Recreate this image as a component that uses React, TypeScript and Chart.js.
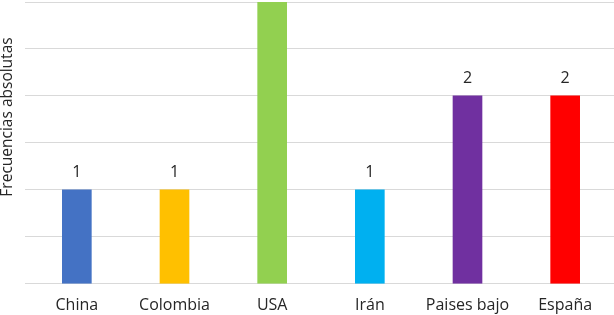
import React, { useEffect, useRef } from "react";
import { Chart, registerables } from "chart.js";

Chart.register(...registerables);

const categories = ["China", "Colombia", "USA", "Irán", "Paises bajo", "España"];
const values = [1, 1, 3, 1, 2, 2];
const barColors = ["#4472C4", "#FFC000", "#92D050", "#00B0F0", "#7030A0", "#FF0000"];
const yTitle = "Frecuencias absolutas";
const yMin = 0;
const yMax = 3;
const yStep = 0.5;

const FONT = "'Open Sans', 'Noto Sans', sans-serif";

const dataLabelPlugin = {
  id: "dataLabels",
  afterDatasetsDraw(chart: any) {
    const ctx = chart.ctx;
    const meta = chart.getDatasetMeta(0);
    ctx.save();
    ctx.font = `16px ${FONT}`;
    ctx.fillStyle = "#262626";
    ctx.textAlign = "center";
    ctx.textBaseline = "middle";
    meta.data.forEach((bar: any, i: number) => {
      const v = chart.data.datasets[0].data[i];
      ctx.fillText(String(v), bar.x, bar.y - 17);
    });
    ctx.restore();
  },
};

const yTitlePlugin = {
  id: "yTitleCustom",
  afterDraw(chart: any) {
    const ctx = chart.ctx;
    ctx.save();
    ctx.translate(8, 117);
    ctx.rotate(-Math.PI / 2);
    ctx.font = `15.5px ${FONT}`;
    ctx.fillStyle = "#262626";
    ctx.textAlign = "center";
    ctx.textBaseline = "middle";
    ctx.fillText(yTitle, 0, 0);
    ctx.restore();
  },
};

export default function App() {
  const ref = useRef<HTMLCanvasElement | null>(null);
  useEffect(() => {
    if (!ref.current) return;
    const chart = new Chart(ref.current, {
      type: "bar",
      data: {
        labels: categories,
        datasets: [
          {
            data: values,
            backgroundColor: barColors,
            barThickness: 29,
          },
        ],
      },
      options: {
        animation: false,
        responsive: false,
        maintainAspectRatio: false,
        layout: { padding: { left: 25, right: 0, top: 2, bottom: -12 } },
        plugins: {
          legend: { display: false },
          tooltip: { enabled: false },
        },
        scales: {
          x: {
            grid: { display: false, drawTicks: false },
            border: { display: false },
            ticks: {
              padding: 12,
              color: "#262626",
              font: { family: FONT, size: 16, lineHeight: 1.2 },
            },
          },
          y: {
            min: yMin,
            max: yMax,
            ticks: { display: false, stepSize: yStep },
            grid: { color: "#D9D9D9", lineWidth: 1, drawTicks: true, tickLength: 3 },
            border: { display: false },
          },
        },
      },
      plugins: [dataLabelPlugin, yTitlePlugin],
    });
    return () => chart.destroy();
  }, []);
  return (
    <div style={{ position: "fixed", left: 0, top: 0, width: 614, height: 315, background: "#fff" }}>
      <canvas ref={ref} width={614} height={315} style={{ width: 614, height: 315 }} />
    </div>
  );
}
